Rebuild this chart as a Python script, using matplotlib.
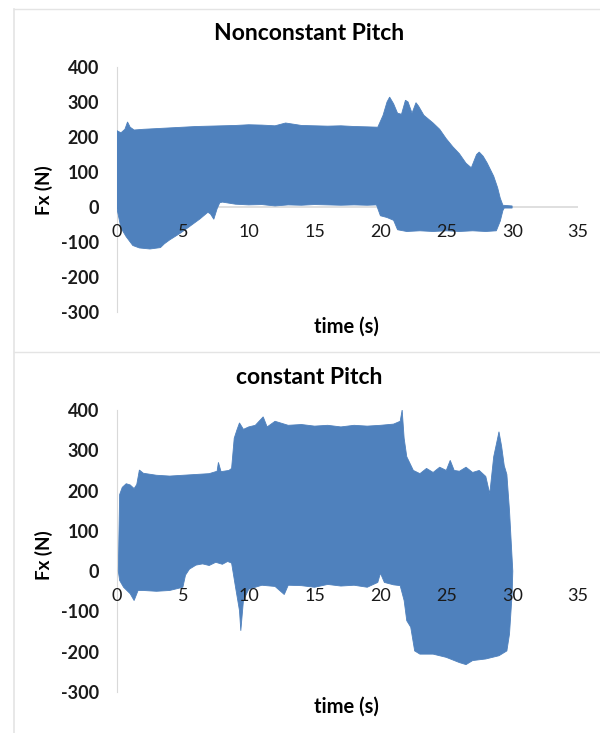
import numpy as np
import matplotlib
matplotlib.use("Agg")
import matplotlib.pyplot as plt
from matplotlib.lines import Line2D

plt.rcParams["font.family"] = ["Lato", "DejaVu Sans"]

BLUE = "#4f81bd"
GREY = "#d9d9d9"

# Nonconstant pitch: upper / lower envelope of Fx (N)
nc_t_upper = [0.0, 0.3, 0.6, 0.8, 1.0, 1.3, 2, 3, 4, 5, 6, 7, 8, 9, 10, 11, 12,
              12.8, 13.5, 14, 15, 16, 17, 18, 19, 19.8, 20.2, 20.5, 20.7, 21.0,
              21.3, 21.6, 21.9, 22.1, 22.4, 22.7, 22.9, 23.3, 24.0, 24.5, 25.0,
              25.5, 26.0, 26.5, 26.9, 27.3, 27.5, 27.8, 28.1, 28.6, 28.9, 29.1,
              29.3, 30.0]
nc_upper = [218, 212, 222, 243, 228, 220, 222, 224, 226, 228, 230, 231, 232,
            233, 235, 234, 232, 240, 236, 233, 232, 231, 232, 230, 229, 228,
            262, 300, 314, 295, 268, 265, 305, 300, 268, 298, 288, 262, 240,
            222, 195, 172, 152, 125, 112, 150, 157, 145, 126, 88, 55, 25, 5, 3]
nc_t_lower = [0.0, 0.3, 0.7, 1.2, 1.7, 2.5, 3.3, 3.6, 4.0, 4.8, 5.5, 6.3, 6.9,
              7.1, 7.35, 7.6, 7.8, 8.0, 9, 10, 11, 12, 13, 14, 15, 16, 17, 18,
              19, 19.7, 20.0, 20.5, 21.0, 21.3, 22, 23, 24, 25, 26, 27, 28,
              28.8, 29.1, 29.3, 29.4, 30.0]
nc_lower = [-5, -60, -85, -110, -117, -120, -116, -105, -94, -75, -56, -34,
            -15, -20, -35, -5, 12, 14, 8, 6, 7, 3, 6, 5, 7, 6, 5, 6, 5, 6, -25,
            -30, -38, -65, -70, -68, -70, -68, -70, -68, -70, -68, -40, -10,
            -3, -3]

# Constant pitch
c_t_upper = [0.1, 0.2, 0.4, 0.7, 1.0, 1.3, 1.5, 1.7, 2.0, 3, 4, 5, 6, 7, 7.6,
             7.7, 7.9, 8.5, 8.7, 8.9, 9.1, 9.3, 9.6, 10, 10.5, 11.1, 11.4, 12,
             13, 14, 15, 16, 17, 18, 19, 20, 21, 21.5, 21.65, 21.8, 22.0, 22.5,
             23, 23.5, 24, 24.5, 25, 25.3, 25.6, 26, 26.5, 27, 27.5, 28, 28.3,
             28.6, 28.9, 29.0, 29.2, 29.4, 29.6, 29.8, 30.0, 30.05]
c_upper = [0, 190, 208, 217, 214, 205, 215, 251, 243, 238, 236, 238, 240, 242,
           248, 270, 247, 250, 255, 330, 350, 368, 352, 358, 362, 383, 358, 372,
           362, 364, 360, 362, 358, 362, 360, 362, 365, 372, 400, 330, 284, 250,
           242, 255, 245, 258, 250, 275, 250, 248, 258, 245, 250, 235, 192, 284,
           330, 346, 310, 262, 240, 150, 30, 0]
c_t_lower = [0.1, 0.2, 0.5, 1.0, 1.3, 1.6, 2, 3, 4, 5.0, 5.2, 5.5, 6, 6.5, 7,
             7.5, 8, 8.4, 8.7, 9.0, 9.3, 9.4, 9.6, 10, 11, 12, 12.7, 13, 14, 15,
             16, 17, 18, 19, 19.8, 20.0, 20.3, 21, 21.5, 21.8, 22.0, 22.3, 22.6,
             23, 24, 25, 26, 26.5, 27, 28, 29, 29.6, 29.8, 30.0, 30.05]
c_lower = [0, -23, -40, -56, -73, -48, -48, -50, -48, -40, -10, 5, 15, 18, 14,
           22, 17, 24, 20, -40, -98, -148, -73, -45, -35, -38, -58, -35, -36,
           -40, -33, -37, -35, -40, -28, -5, -28, -34, -36, -73, -123, -139,
           -198, -206, -206, -214, -227, -232, -222, -218, -210, -198, -156,
           -56, 0]

y_ticks = [400, 300, 200, 100, 0, -100, -200, -300]
x_ticks = [0, 5, 10, 15, 20, 25, 30, 35]

W, H = 600, 733
fig = plt.figure(figsize=(W / 100, H / 100), dpi=100)


def fx(px):
    return px / W


def fy(py):
    return 1 - py / H


def draw_panel(ax, t_up, up, t_lo, lo, zero_line):
    xs = np.concatenate([t_up, t_lo[::-1]])
    ys = np.concatenate([up, lo[::-1]])
    ax.fill(xs, ys, color=BLUE, lw=0.6, ec=BLUE, zorder=1)
    if zero_line:
        ax.plot([0, 35], [0, 0], color=GREY, lw=1.2, zorder=0.5)
    ax.set_xlim(0, 35)
    ax.set_ylim(-300, 400)
    for s in ["top", "right", "bottom"]:
        ax.spines[s].set_visible(False)
    ax.spines["left"].set_color(GREY)
    ax.spines["left"].set_zorder(0.4)
    ax.set_yticks(y_ticks)
    ax.set_yticklabels([str(v) for v in y_ticks], fontweight="bold")
    ax.set_xticks(x_ticks)
    ax.set_xticklabels([str(v) for v in x_ticks], fontweight="bold")
    ax.tick_params(axis="y", length=0, pad=13, labelsize=13, colors="#1a1a1a")
    ax.tick_params(axis="x", length=0, labelsize=13, colors="#1a1a1a")
    # x tick labels sit just under the zero line, as in the spreadsheet chart
    ax.xaxis.set_ticks_position("bottom")
    ax.spines["bottom"].set_position(("data", 0))
    ax.tick_params(axis="x", pad=12)
    ax.patch.set_alpha(0)


ax1 = fig.add_axes([fx(117), fy(312), fx(461), 245 / H])
draw_panel(ax1, np.array(nc_t_upper), np.array(nc_upper),
           np.array(nc_t_lower), np.array(nc_lower), True)
ax2 = fig.add_axes([fx(117), fy(692), fx(461), 282 / H])
draw_panel(ax2, np.array(c_t_upper), np.array(c_upper),
           np.array(c_t_lower), np.array(c_lower), False)

tkw = dict(ha="center", va="center", fontweight="bold", color="black")
fig.text(fx(309), fy(33), "Nonconstant Pitch", fontsize=16.5, **tkw)
fig.text(fx(309), fy(377), "constant Pitch", fontsize=16.5, **tkw)
fig.text(fx(346), fy(327), "time (s)", fontsize=14.5, **tkw)
fig.text(fx(346), fy(707), "time (s)", fontsize=14.5, **tkw)
fig.text(fx(44), fy(190), "Fx (N)", fontsize=13.5, rotation=90, **tkw)
fig.text(fx(44), fy(555), "Fx (N)", fontsize=13.5, rotation=90, **tkw)

# faint chart-area borders of the two stacked charts
lc = "#e4e4e4"
fig.add_artist(Line2D([fx(14), fx(14)], [0, fy(9)], color=lc, lw=1.2))
fig.add_artist(Line2D([fx(14), 1], [fy(9), fy(9)], color=lc, lw=1.0))
fig.add_artist(Line2D([fx(14), 1], [fy(352), fy(352)], color=lc, lw=1.0))

fig.savefig("out.png", dpi=100)
